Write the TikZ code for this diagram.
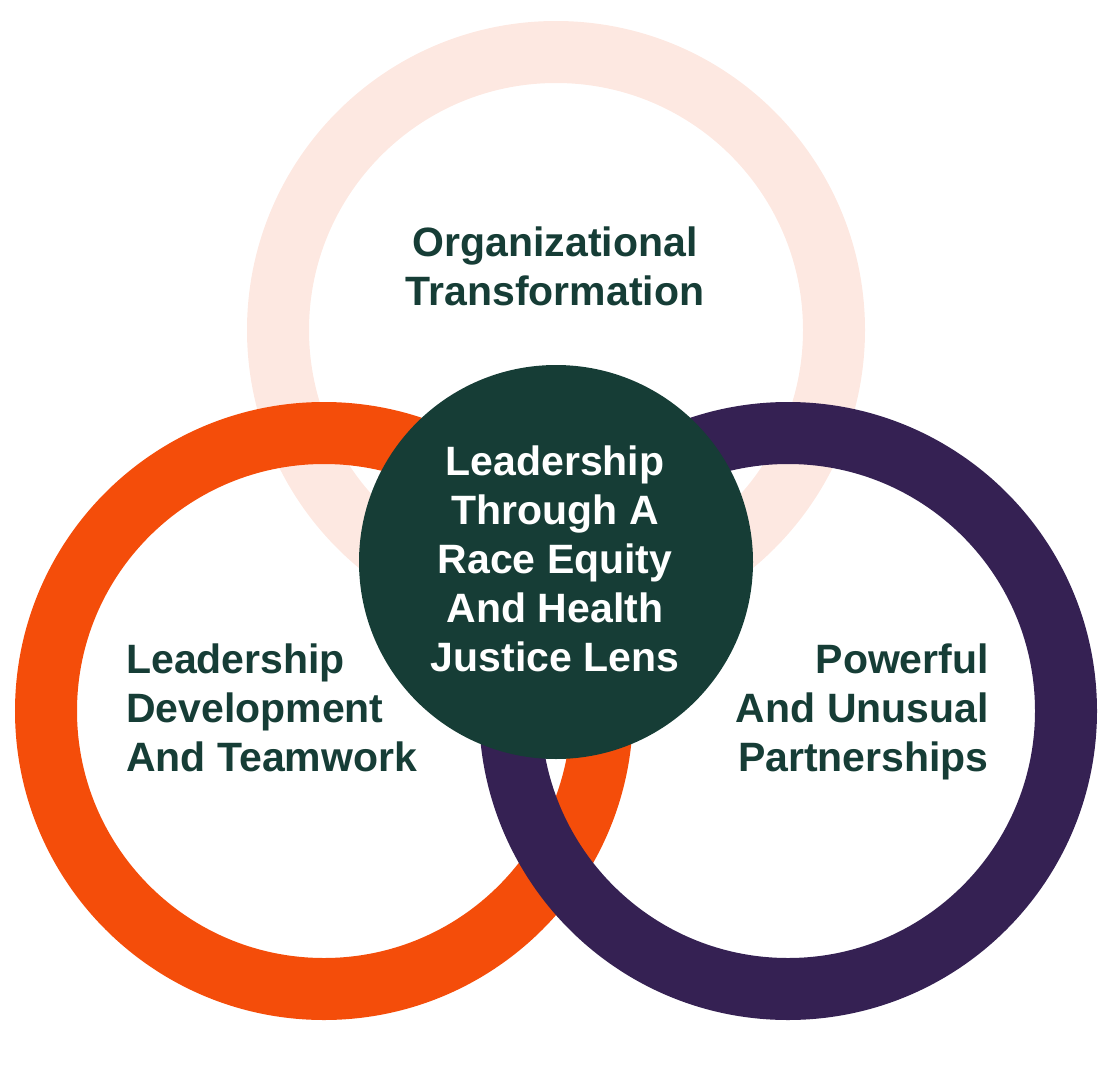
\documentclass[tikz,border=0pt]{standalone}
\usepackage{fontspec}
\setmainfont{Liberation Sans}
\definecolor{peach}{RGB}{253,232,225}
\definecolor{orng}{RGB}{244,77,10}
\definecolor{purp}{RGB}{53,33,83}
\definecolor{dkgreen}{RGB}{22,61,54}
\tikzset{
  ring/.style={line width=62pt},
  lbl/.style={inner sep=0pt, text=dkgreen, font=\fontsize{41}{49}\selectfont\bfseries},
}
\begin{document}
\begin{tikzpicture}[x=1pt,y=-1pt]
\useasboundingbox (0,0) rectangle (1106,1068);
\draw[ring, peach] (556,330) circle[radius=278];
\draw[ring, orng] (324,711) circle[radius=278];
\draw[ring, purp] (788,711) circle[radius=278];
\fill[dkgreen] (556,562) circle[radius=197];
\node[lbl, anchor=base] (top) at (555,256) {\begin{tabular}[t]{@{}c@{}}Organizational\\Transformation\end{tabular}};
\node[lbl, anchor=base, text=white] (center) at (555,475) {\begin{tabular}[t]{@{}c@{}}Leadership\\Through A\\Race Equity\\And Health\\Justice Lens\end{tabular}};
\node[lbl, anchor=base west] (left) at (126,673) {\begin{tabular}[t]{@{}l@{}}Leadership\\Development\\And Teamwork\end{tabular}};
\node[lbl, anchor=base east] (right) at (989,673) {\begin{tabular}[t]{@{}r@{}}Powerful\\And Unusual\\Partnerships\end{tabular}};
\end{tikzpicture}
\end{document}
